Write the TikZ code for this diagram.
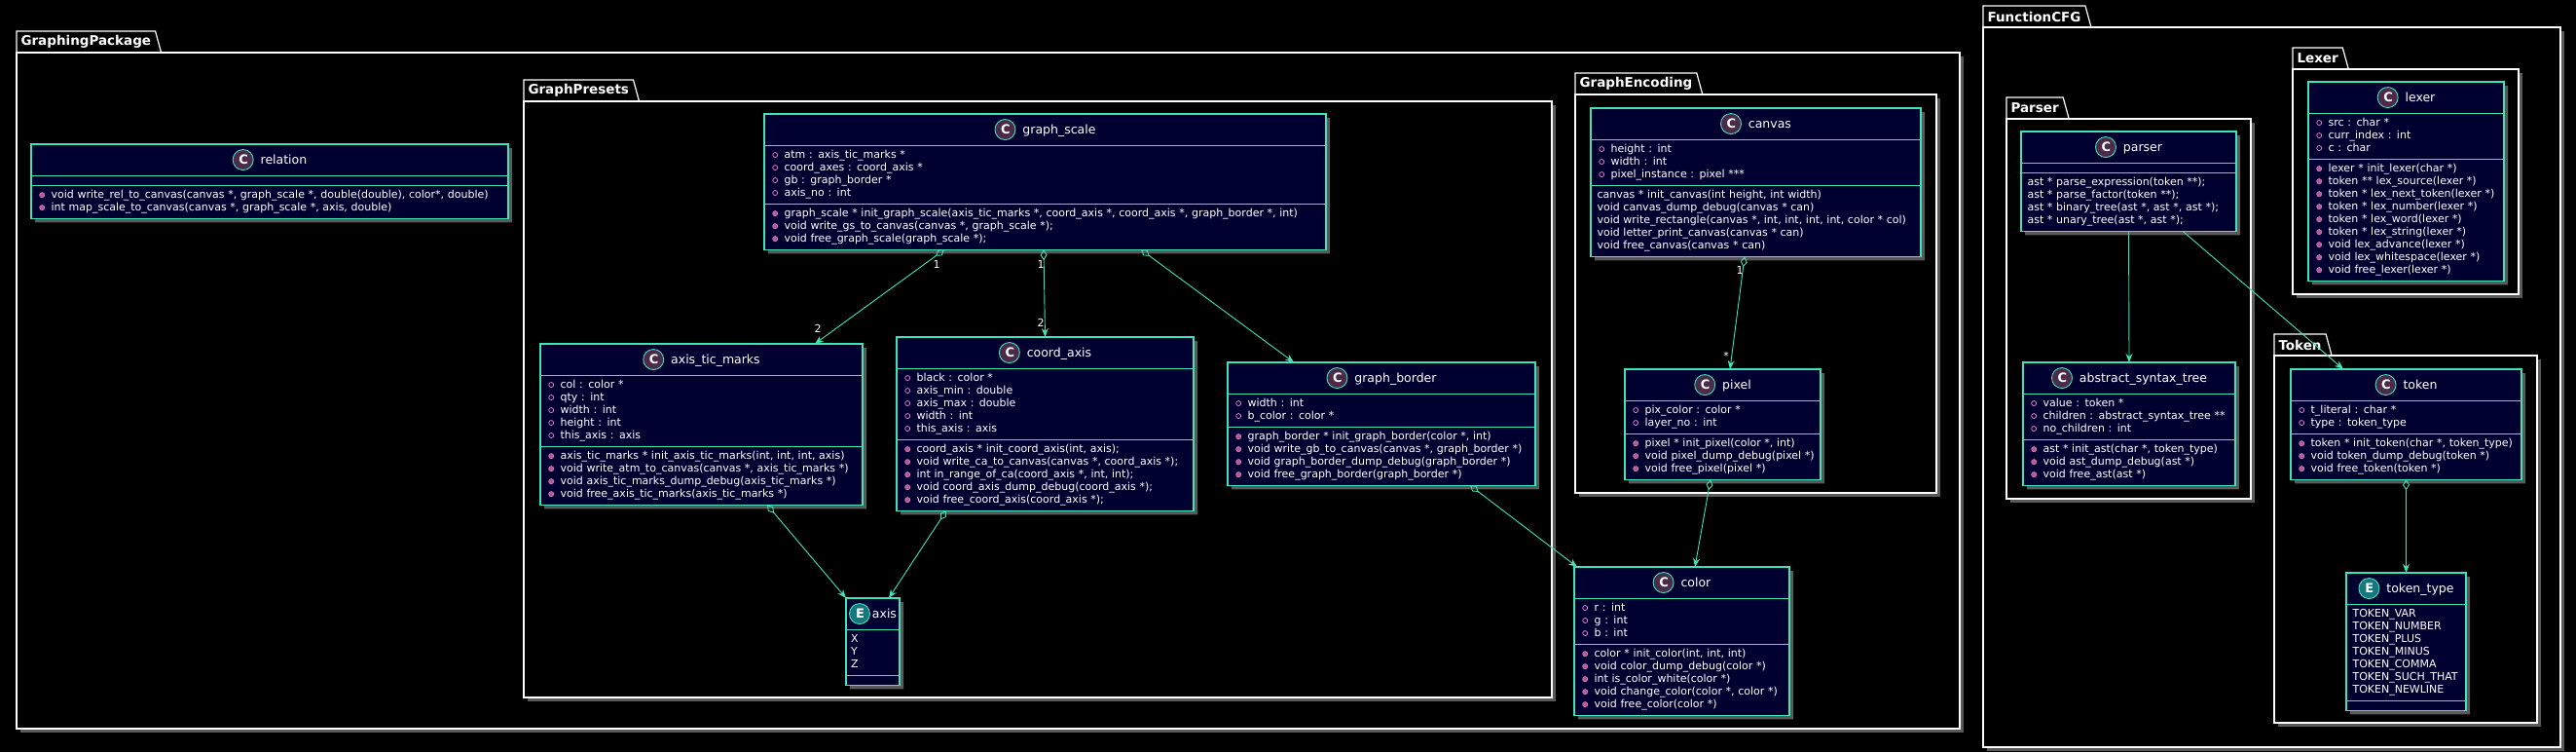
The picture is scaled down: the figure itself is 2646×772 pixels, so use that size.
\documentclass[tikz,border=0pt]{standalone}
\usepackage{fontspec}
\setmainfont{DejaVu Sans}
\usepackage{xcolor}
\usepackage{tikz}
\usetikzlibrary{positioning,shapes.multipart,shadows,arrows.meta}

\definecolor{verdeuml}{HTML}{3FE3B8}
\definecolor{azuluml}{HTML}{000030}
\definecolor{roxouml}{HTML}{4C2A4A}
\definecolor{tealuml}{HTML}{17767E}
\definecolor{rosauml}{HTML}{E07AC0}
\definecolor{rosaesc}{HTML}{B05C94}
\definecolor{sombra}{HTML}{5A5A5A}

\hfuzz=100pt
\hbadness=10000

% linha de membro
\newcommand{\linha}{\rule[-3.5pt]{0pt}{13pt}}
\newcommand{\atrib}[1]{\linha\hspace*{1.8pt}\tikz[baseline=-3.6pt]\draw[rosauml,line width=0.8pt] (0,0) circle[radius=2.5pt];\hspace*{6.5pt}\mbox{\color{white}#1}}
\newcommand{\metod}[1]{\linha\hspace*{1.8pt}\tikz[baseline=-3.6pt]\draw[draw=rosauml,fill=rosaesc,line width=0.6pt] (0,0) circle[radius=2.6pt];\hspace*{6.5pt}\mbox{\color{white}#1}}
\newcommand{\simples}[1]{\linha\mbox{\color{white}#1}}
% icone e cabecalho
\newcommand{\icone}[2]{\tikz[baseline=-4.5pt]\draw[draw=verdeuml,fill=#1,line width=0.9pt] (0,0) circle[radius=10.5pt];\hspace*{-21pt}\makebox[21pt]{\color{white}\fontsize{13}{13}\selectfont\bfseries #2}}
\newcommand{\cabec}[4][7pt]{\hbox to \hsize{\hss\rule[-7.5pt]{0pt}{24pt}\icone{#2}{#3}\hspace*{#1}{\color{white}\fontsize{12.5}{13}\selectfont #4}\hss}}

\begin{document}
\begin{tikzpicture}[x=1pt, y=-1pt,
  classe/.style={rectangle split, rectangle split parts=3, anchor=north west,
    draw=verdeuml, fill=azuluml, line width=1.1pt, text=white,
    font=\fontsize{11}{13}\selectfont, align=left,
    inner xsep=6.5pt, inner ysep=3.5pt, outer sep=0pt,
    drop shadow={shadow xshift=4pt, shadow yshift=-4pt, fill=sombra, opacity=1}},
  pacote/.style={draw=white, line width=1.2pt, fill=black,
    drop shadow={shadow xshift=4pt, shadow yshift=-4pt, fill=sombra, opacity=1}},
  aba/.style={anchor=south west, font=\fontsize{13.5}{14}\selectfont\bfseries, text=white,
    inner xsep=4.5pt, inner ysep=0pt, minimum height=22pt, outer sep=0pt},
  abalinha/.style={draw=white, line width=1.2pt},
  seta/.style={draw=verdeuml, line width=0.9pt, -{Stealth[length=9pt, width=7pt, inset=3pt]}},
  agreg/.style={seta, {Diamond[open, length=11pt, width=7pt]}-{Stealth[length=9pt, width=7pt, inset=3pt]}},
  mult/.style={text=white, font=\fontsize{11}{13}\selectfont, inner sep=0pt}
]

% Fundo
\useasboundingbox (0,0) rectangle (2646,772);
\fill[black] (0,0) rectangle (2646,772);

% Pacote GraphingPackage
\draw[pacote] (17,54) rectangle (2013,748);
\node[aba] (abaGPk) at (17,54) {GraphingPackage};
\draw[abalinha] (abaGPk.south west) |- (abaGPk.north east) -- ([xshift=6pt]abaGPk.south east);

% Pacote GraphPresets
\draw[pacote] (538,104) rectangle (1594,716);
\node[aba] (abaGPr) at (538,104) {GraphPresets};
\draw[abalinha] (abaGPr.south west) |- (abaGPr.north east) -- ([xshift=6pt]abaGPr.south east);

% Pacote GraphEncoding
\draw[pacote] (1618,97) rectangle (1989,506);
\node[aba] (abaGEn) at (1618,97) {GraphEncoding};
\draw[abalinha] (abaGEn.south west) |- (abaGEn.north east) -- ([xshift=6pt]abaGEn.south east);

% Pacote FunctionCFG
\draw[pacote] (2037,28) rectangle (2630,767);
\node[aba] (abaFCF) at (2037,28) {FunctionCFG};
\draw[abalinha] (abaFCF.south west) |- (abaFCF.north east) -- ([xshift=6pt]abaFCF.south east);

% Pacote Parser
\draw[pacote] (2061,122) rectangle (2312,512);
\node[aba] (abaPar) at (2061,122) {Parser};
\draw[abalinha] (abaPar.south west) |- (abaPar.north east) -- ([xshift=6pt]abaPar.south east);

% Pacote Lexer
\draw[pacote] (2355,71) rectangle (2587,302);
\node[aba] (abaLex) at (2355,71) {Lexer};
\draw[abalinha] (abaLex.south west) |- (abaLex.north east) -- ([xshift=6pt]abaLex.south east);

% Pacote Token
\draw[pacote] (2336,365) rectangle (2606,742);
\node[aba] (abaTok) at (2336,365) {Token};
\draw[abalinha] (abaTok.south west) |- (abaTok.north east) -- ([xshift=6pt]abaTok.south east);

% Classe relation
\node[classe, text width=477pt] (rel) at (32,148) {\cabec{roxouml}{C}{relation}
  \nodepart{two}\rule{0pt}{2pt}
  \nodepart{three}\metod{void write\_rel\_to\_canvas(canvas *, graph\_scale *, double(double), color*, double)}\\
  \metod{int map\_scale\_to\_canvas(canvas *, graph\_scale *, axis, double)}};

% Classe graph_scale
\node[classe, text width=564pt] (gs) at (785,117) {\cabec{roxouml}{C}{graph\_scale}
  \nodepart{two}\atrib{atm : axis\_tic\_marks *}\\
  \atrib{coord\_axes : coord\_axis *}\\
  \atrib{gb : graph\_border *}\\
  \atrib{axis\_no : int}
  \nodepart{three}\metod{graph\_scale * init\_graph\_scale(axis\_tic\_marks *, coord\_axis *, coord\_axis *, graph\_border *, int)}\\
  \metod{void write\_gs\_to\_canvas(canvas *, graph\_scale *);}\\
  \metod{void free\_graph\_scale(graph\_scale *);}};

% Classe axis_tic_marks
\node[classe, text width=318pt] (atm) at (555,353) {\cabec{roxouml}{C}{axis\_tic\_marks}
  \nodepart{two}\atrib{col : color *}\\
  \atrib{qty : int}\\
  \atrib{width : int}\\
  \atrib{height : int}\\
  \atrib{this\_axis : axis}
  \nodepart{three}\metod{axis\_tic\_marks * init\_axis\_tic\_marks(int, int, int, axis)}\\
  \metod{void write\_atm\_to\_canvas(canvas *, axis\_tic\_marks *)}\\
  \metod{void axis\_tic\_marks\_dump\_debug(axis\_tic\_marks *)}\\
  \metod{void free\_axis\_tic\_marks(axis\_tic\_marks *)}};

% Classe coord_axis
\node[classe, text width=292pt] (ca) at (921,346) {\cabec{roxouml}{C}{coord\_axis}
  \nodepart{two}\atrib{black : color *}\\
  \atrib{axis\_min : double}\\
  \atrib{axis\_max : double}\\
  \atrib{width : int}\\
  \atrib{this\_axis : axis}
  \nodepart{three}\metod{coord\_axis * init\_coord\_axis(int, axis);}\\
  \metod{void write\_ca\_to\_canvas(canvas *, coord\_axis *);}\\
  \metod{int in\_range\_of\_ca(coord\_axis *, int, int);}\\
  \metod{void coord\_axis\_dump\_debug(coord\_axis *);}\\
  \metod{void free\_coord\_axis(coord\_axis *);}};

% Classe graph_border
\node[classe, text width=303pt] (gb) at (1261,372) {\cabec{roxouml}{C}{graph\_border}
  \nodepart{two}\atrib{width : int}\\
  \atrib{b\_color : color *}
  \nodepart{three}\metod{graph\_border * init\_graph\_border(color *, int)}\\
  \metod{void write\_gb\_to\_canvas(canvas *, graph\_border *)}\\
  \metod{void graph\_border\_dump\_debug(graph\_border *)}\\
  \metod{void free\_graph\_border(graph\_border *)}};

% Enum axis
\node[classe, text width=49pt, inner xsep=3pt] (ax) at (869,614) {\cabec[2pt]{tealuml}{E}{axis}
  \nodepart{two}\simples{\hspace*{2pt}X}\\
  \simples{\hspace*{2pt}Y}\\
  \simples{\hspace*{2pt}Z}
  \nodepart{three}\rule{0pt}{2pt}};

% Classe canvas
\node[classe, text width=326pt] (cv) at (1634,111) {\cabec{roxouml}{C}{canvas}
  \nodepart{two}\atrib{height : int}\\
  \atrib{width : int}\\
  \atrib{pixel\_instance : pixel ***}
  \nodepart{three}\simples{canvas * init\_canvas(int height, int width)}\\
  \simples{void canvas\_dump\_debug(canvas * can)}\\
  \simples{void write\_rectangle(canvas *, int, int, int, int, color * col)}\\
  \simples{void letter\_print\_canvas(canvas * can)}\\
  \simples{void free\_canvas(canvas * can)}};

% Classe pixel
\node[classe, text width=188pt] (px) at (1669,379) {\cabec{roxouml}{C}{pixel}
  \nodepart{two}\atrib{pix\_color : color *}\\
  \atrib{layer\_no : int}
  \nodepart{three}\metod{pixel * init\_pixel(color *, int)}\\
  \metod{void pixel\_dump\_debug(pixel *)}\\
  \metod{void free\_pixel(pixel *)}};

% Classe color
\node[classe, text width=208pt] (col) at (1617,582) {\cabec{roxouml}{C}{color}
  \nodepart{two}\atrib{r : int}\\
  \atrib{g : int}\\
  \atrib{b : int}
  \nodepart{three}\metod{color * init\_color(int, int, int)}\\
  \metod{void color\_dump\_debug(color *)}\\
  \metod{int is\_color\_white(color *)}\\
  \metod{void change\_color(color *, color *)}\\
  \metod{void free\_color(color *)}};

% Classe parser
\node[classe, text width=208pt] (pr) at (2076,135) {\cabec{roxouml}{C}{parser}
  \nodepart{two}\rule{0pt}{2pt}
  \nodepart{three}\simples{ast * parse\_expression(token **);}\\
  \simples{ast * parse\_factor(token **);}\\
  \simples{ast * binary\_tree(ast *, ast *, ast *);}\\
  \simples{ast * unary\_tree(ast *, ast *);}};

% Classe abstract_syntax_tree
\node[classe, text width=205pt] (ast) at (2078,372) {\cabec{roxouml}{C}{abstract\_syntax\_tree}
  \nodepart{two}\atrib{value : token *}\\
  \atrib{children : abstract\_syntax\_tree **}\\
  \atrib{no\_children : int}
  \nodepart{three}\metod{ast * init\_ast(char *, token\_type)}\\
  \metod{void ast\_dump\_debug(ast *)}\\
  \metod{void free\_ast(ast *)}};

% Classe lexer
\node[classe, text width=188pt] (lx) at (2371,84) {\cabec{roxouml}{C}{lexer}
  \nodepart{two}\atrib{src : char *}\\
  \atrib{curr\_index : int}\\
  \atrib{c : char}
  \nodepart{three}\metod{lexer * init\_lexer(char *)}\\
  \metod{token ** lex\_source(lexer *)}\\
  \metod{token * lex\_next\_token(lexer *)}\\
  \metod{token * lex\_number(lexer *)}\\
  \metod{token * lex\_word(lexer *)}\\
  \metod{token * lex\_string(lexer *)}\\
  \metod{void lex\_advance(lexer *)}\\
  \metod{void lex\_whitespace(lexer *)}\\
  \metod{void free\_lexer(lexer *)}};

% Classe token
\node[classe, text width=224pt] (tk) at (2353,379) {\cabec{roxouml}{C}{token}
  \nodepart{two}\atrib{t\_literal : char *}\\
  \atrib{type : token\_type}
  \nodepart{three}\metod{token * init\_token(char *, token\_type)}\\
  \metod{void token\_dump\_debug(token *)}\\
  \metod{void free\_token(token *)}};

% Enum token_type
\node[classe, text width=110pt] (tt) at (2410,588) {\cabec{tealuml}{E}{token\_type}
  \nodepart{two}\simples{TOKEN\_VAR}\\
  \simples{TOKEN\_NUMBER}\\
  \simples{TOKEN\_PLUS}\\
  \simples{TOKEN\_MINUS}\\
  \simples{TOKEN\_COMMA}\\
  \simples{TOKEN\_SUCH\_THAT}\\
  \simples{TOKEN\_NEWLINE}
  \nodepart{three}\rule{0pt}{2pt}};

% Agregacoes
\draw[agreg] ([xshift=-103.5pt]gs.south) -- ([xshift=116.5pt]atm.north);
\draw[agreg] ([xshift=-1.5pt]gs.south) -- (ca.north);
\draw[agreg] ([xshift=98.5pt]gs.south) -- ([xshift=-90pt]gb.north);
\draw[agreg] ([xshift=67.5pt]atm.south) -- (ax.north west);
\draw[agreg] ([xshift=-101.5pt]ca.south) -- ([xshift=16.5pt]ax.north);
\draw[agreg] ([xshift=91pt]gb.south) -- ([xshift=3pt]col.north west);
\draw[agreg] ([xshift=-11.5pt]cv.south) -- ([xshift=7.5pt]px.north);
\draw[agreg] ([xshift=-12.5pt]px.south) -- ([xshift=13.5pt]col.north);
\draw[agreg] (tk.south) -- (tt.north);

% Associacoes
\draw[seta] (pr.south) -- (ast.north);
\draw[seta] ([xshift=55.5pt]pr.south) -- ([xshift=-64.5pt]tk.north);

% Multiplicidades
\node[mult] (m1) at (962,271) {1};
\node[mult] (m2) at (840,337) {2};
\node[mult] (m3) at (1069,271) {1};
\node[mult] (m4) at (1069,331) {2};
\node[mult] (m5) at (1787,277) {1};
\node[mult] (m6) at (1773,365) {*};

\end{tikzpicture}
\end{document}
